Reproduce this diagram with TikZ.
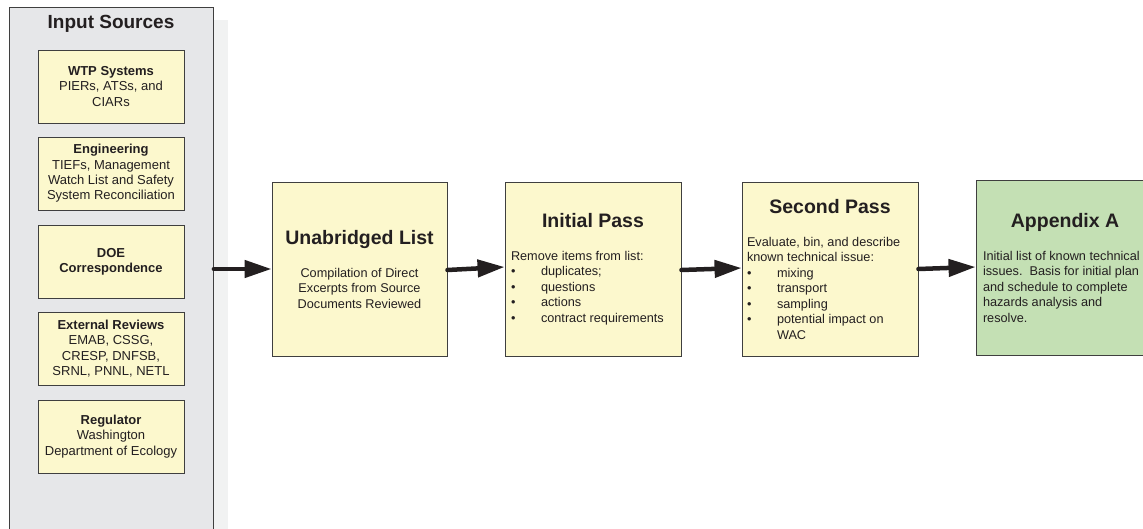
\documentclass[tikz,border=0pt]{standalone}
\usepackage{fontspec}
\setmainfont{Liberation Sans}
\usetikzlibrary{arrows.meta}

\definecolor{ink}{HTML}{231F20}
\definecolor{boxline}{HTML}{3F3F3F}
\definecolor{paleyellow}{HTML}{FCF8CD}
\definecolor{palegreen}{HTML}{C4E0B4}
\definecolor{panelgray}{HTML}{E6E7E9}
\definecolor{shadegray}{HTML}{F1F2F2}

\newcommand{\bodyfont}{\fontsize{12.7}{15.5}\selectfont}
\newcommand{\stagetitle}{\fontsize{19.5}{22}\selectfont\bfseries}
\newcommand{\srcfont}{\fontsize{13}{15.3}\selectfont}
\newcommand{\bulletitem}{\makebox[30pt][l]{\textbullet}}

\begin{document}
\begin{tikzpicture}[x=1pt, y=-1pt,
  panelbox/.style={draw=boxline, line width=0.9pt, fill=panelgray, inner sep=0pt},
  srcbox/.style={draw=boxline, line width=0.9pt, fill=paleyellow,
    minimum width=146pt, minimum height=73pt, inner sep=0pt,
    align=center, font=\srcfont, text=ink},
  stagebox/.style={draw=boxline, line width=0.9pt, fill=paleyellow,
    minimum height=174pt, inner sep=0pt, text=ink},
  flow/.style={draw=ink, line width=4.5pt, line cap=round,
    -{Triangle[length=27pt,width=17pt]}}]

\useasboundingbox (0,0) rectangle (1143,529);
\clip (0,0) rectangle (1143,529);

% source panel with its soft drop shade
\fill[shadegray] (24,20) rectangle (228,560);
\node[panelbox, anchor=north west, minimum width=204pt, minimum height=545pt] (src) at (9,7) {};
\node[text=ink, font=\fontsize{19}{22}\selectfont\bfseries] (srctitle) at (111,24) {Input Sources};

% individual sources
\node[srcbox] (wtp) at (111,86.5) {\textbf{WTP Systems}\\PIERs, ATSs, and\\CIARs};
\node[srcbox] (eng) at (111,173.5) {\textbf{Engineering}\\TIEFs, Management\\Watch List and Safety\\System Reconciliation};
\node[srcbox] (doe) at (111,261.5) {\textbf{DOE}\\\textbf{Correspondence}};
\node[srcbox] (ext) at (111,348.5) {\textbf{External Reviews}\\EMAB, CSSG,\\CRESP, DNFSB,\\SRNL, PNNL, NETL};
\node[srcbox] (reg) at (111,436.5) {\textbf{Regulator}\\Washington\\Department of Ecology};

% processing stages
\node[stagebox, minimum width=175pt] (unab) at (359.5,269) {\parbox{165pt}{\centering
  {\stagetitle Unabridged List\par}\vspace{17.5pt}
  \bodyfont Compilation of Direct\\Excerpts from Source\\Documents Reviewed\par}};

\node[stagebox, minimum width=176pt] (init) at (593,269) {\parbox{164pt}{\centering
  {\stagetitle Initial Pass\par}\vspace{17.5pt}
  \raggedright\bodyfont Remove items from list:\\
  \bulletitem duplicates;\\
  \bulletitem questions\\
  \bulletitem actions\\
  \bulletitem contract requirements\par}};

\node[stagebox, minimum width=176pt] (sec) at (830,269) {\parbox{166pt}{\centering
  {\stagetitle Second Pass\par}\vspace{17.5pt}
  \raggedright\bodyfont Evaluate, bin, and describe\\
  known technical issue:\\
  \bulletitem mixing\\
  \bulletitem transport\\
  \bulletitem sampling\\
  \bulletitem potential impact on\\
  \hspace*{30pt}WAC\par}};

\node[stagebox, fill=palegreen, minimum width=178pt, minimum height=175pt] (appx) at (1065,267.5) {\parbox{164pt}{\centering
  {\stagetitle Appendix A\par}\vspace{17.5pt}
  \raggedright\bodyfont Initial list of known technical\\
  issues.~~Basis for initial plan\\
  and schedule to complete\\
  hazards analysis and\\
  resolve.\par}};

% flow between stages
\draw[flow] (src.east |- unab.west) -- (unab.west);
\draw[flow] ([yshift=-1pt]unab.east) -- ([yshift=2pt]init.west);
\draw[flow] ([yshift=-1pt]init.east) -- ([yshift=1pt]sec.west);
\draw[flow] (sec.east) -- ([yshift=0.5pt]appx.west);

\end{tikzpicture}
\end{document}
